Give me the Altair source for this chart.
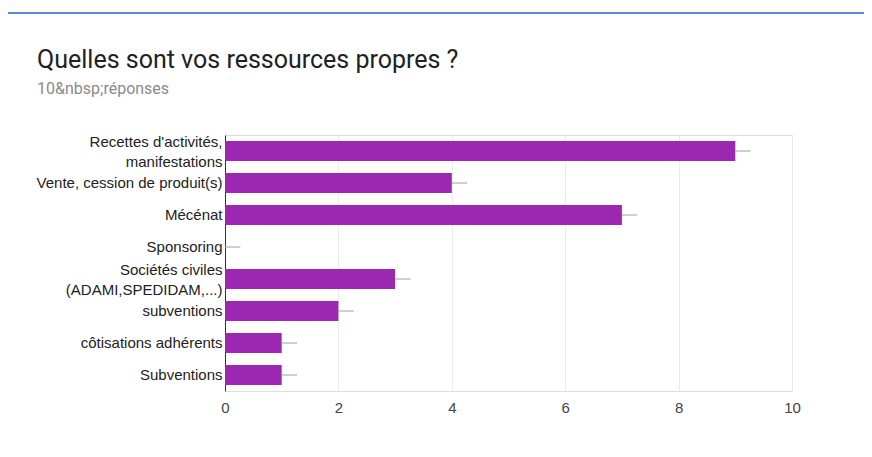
import altair as alt
import pandas as pd

categories = [
    "Recettes d'activités,|manifestations",
    "Vente, cession de produit(s)",
    "Mécénat",
    "Sponsoring",
    "Sociétés civiles|(ADAMI,SPEDIDAM,...)",
    "subventions",
    "côtisations adhérents",
    "Subventions",
]
counts = [9, 4, 7, 0, 3, 2, 1, 1]
x_ticks = [0, 2, 4, 6, 8, 10]
title_text = "Quelles sont vos ressources propres ?"
subtitle_text = "10&nbsp;réponses"
whisker = 0.27

df = pd.DataFrame({"cat": categories, "n": counts})

y_enc = alt.Y(
    "cat:N",
    sort=None,
    title=None,
    scale=alt.Scale(paddingInner=0.38, paddingOuter=0.19),
    axis=alt.Axis(
        labelExpr="split(datum.label, '|')",
        labelFont="Liberation Sans",
        labelFontSize=15,
        labelColor="#222222",
        labelLineHeight=20,
        labelPadding=3,
        labelOffset={
            "condition": {"test": "indexof(datum.value, '|') >= 0", "value": -9},
            "value": 0,
        },
        ticks=False,
        domainColor="#333333",
        domainWidth=1,
        grid=False,
        labelLimit=300,
    ),
)

x_enc = alt.X(
    "n:Q",
    title=None,
    scale=alt.Scale(domain=[0, 10], nice=False),
    axis=alt.Axis(
        values=x_ticks,
        format="d",
        labelFont="Liberation Sans",
        labelFontSize=15,
        labelColor="#444444",
        labelPadding=9,
        labelFlush=False,
        ticks=False,
        domain=False,
        gridColor="#ebebeb",
        gridWidth=1,
    ),
)

bars = alt.Chart(df).mark_bar(color="#9c27b0").encode(x=x_enc, y=y_enc)

whiskers = (
    alt.Chart(df)
    .transform_calculate(hi=f"datum.n + {whisker}")
    .mark_rule(color="#9e9e9e", strokeWidth=1)
    .encode(x="n:Q", x2="hi:Q", y=alt.Y("cat:N", sort=None, bandPosition=0.5))
)

one = pd.DataFrame({"k": [0]})
title = alt.Chart(one).mark_text(
    font="Roboto", fontSize=25, color="#202124", align="left", baseline="alphabetic"
).encode(x=alt.value(-188), y=alt.value(-67), text=alt.value(title_text))
subtitle = alt.Chart(one).mark_text(
    font="Roboto", fontSize=16, color="#8a8a8a", align="left", baseline="alphabetic"
).encode(x=alt.value(-188), y=alt.value(-41), text=alt.value(subtitle_text))
border = alt.Chart(one).mark_rule(color="#5b87d9", strokeWidth=2).encode(
    x=alt.value(-217), x2=alt.value(640), y=alt.value(-122)
)

chart = (
    alt.layer(bars, whiskers, title, subtitle, border)
    .properties(
        width=567,
        height=256,
        autosize=alt.AutoSizeParams(type="none"),
        padding={"left": 217, "top": 127, "right": 72, "bottom": 50},
    )
    .configure_view(stroke="#ebebeb")
    .configure(background="white")
)

chart.save("out.html", embed_options={"renderer": "svg", "actions": False})
